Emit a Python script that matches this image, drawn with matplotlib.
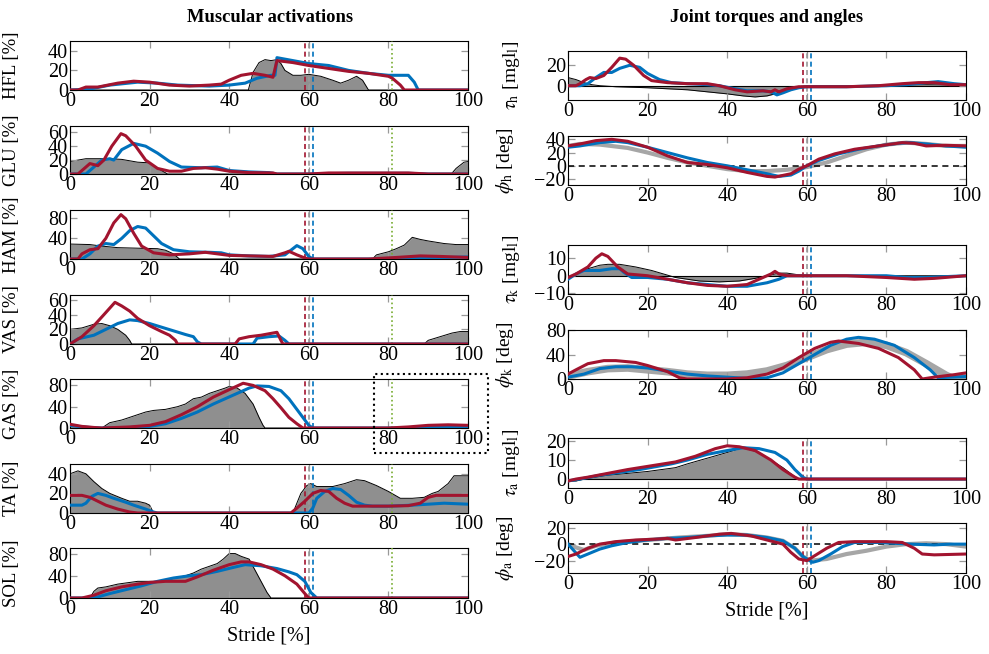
import matplotlib
matplotlib.use("Agg")
import matplotlib.pyplot as plt
from matplotlib.patches import Rectangle
import numpy as np

plt.rcParams['font.family'] = ['Liberation Serif', 'DejaVu Serif']
plt.rcParams['mathtext.fontset'] = 'stix'
plt.rcParams['font.size'] = 12

BLUE = '#0072BD'
RED = '#A2142F'
GRAY = '#8f8f8f'
LGRAY = '#a6a6a6'
GREEN = '#77AC30'

# ---------------- muscle activations [%] ----------------
hfl_ref_x = [0, 44.8, 46, 47.5, 49, 50.5, 52, 53, 54, 56, 58, 60, 63, 66, 68, 70, 72, 73.5, 75, 100]
hfl_ref_y = [0, 0, 18, 28, 31, 30, 31, 27, 20, 15, 15, 16, 14, 10, 7, 10, 14, 10, 0, 0]
hfl_blue_x = [0, 5, 10, 17, 22, 27, 35, 40, 44, 47, 50.5, 51.5, 52, 56, 60, 65, 70, 75, 80, 85, 86.5, 87.5, 100]
hfl_blue_y = [0, 1, 5, 8, 7, 5, 4, 5, 7, 12, 15, 15, 33, 30, 27, 25, 20, 17, 15, 15, 8, 0, 0]
hfl_red_x = [0, 2, 4, 7, 12, 16, 20, 25, 30, 35, 38, 40, 43, 46, 49, 51, 52, 56, 60, 65, 70, 75, 80, 81, 83, 84, 100]
hfl_red_y = [0, 0, 3, 3, 7, 9, 8, 5, 4, 5, 6, 10, 15, 17, 15, 13, 30, 28, 25, 22, 19, 17, 14, 12, 5, 0, 0]

glu_ref_x = [0, 2, 4, 10, 13, 17, 20, 21, 23, 24.5, 95.8, 97, 99, 100]
glu_ref_y = [18, 20, 22, 22, 21, 17, 16, 12, 5, 0, 0, 8, 17, 18]
glu_blue_x = [0, 4, 6, 8, 10, 11, 13, 16, 19, 22, 25, 28, 33, 37, 40, 45, 50, 52, 60, 70, 85, 90, 100]
glu_blue_y = [0, 0, 10, 20, 22, 20, 35, 44, 40, 30, 18, 10, 9, 10, 5, 3, 2, 0, 0, 1, 1, 0, 0]
glu_red_x = [0, 2, 4, 5, 7, 8.5, 10.5, 12.8, 14, 16.5, 19, 22, 25, 28, 31, 34, 37, 40, 45, 51, 52, 60, 65, 85, 90, 100]
glu_red_y = [0, 0, 10, 15, 12, 20, 40, 58, 55, 40, 20, 8, 4, 4, 8, 9, 7, 4, 2, 1.5, 0, 0, 1.5, 1.5, 0, 0]

ham_ref_x = [0, 5, 8, 12, 17, 22, 24, 26, 27.5, 76, 77, 80, 82, 84, 86, 88, 90, 94, 97, 100]
ham_ref_y = [29, 28, 25, 22, 21, 20, 17, 10, 0, 0, 8, 14, 20, 27, 42, 38, 35, 30, 28, 28]
ham_blue_x = [0, 3, 5, 7, 9, 11, 13, 15, 17, 19, 21, 23, 26, 30, 35, 38, 40, 45, 50, 54, 56, 57, 58.5, 60, 61, 80, 90, 100]
ham_blue_y = [0, 0, 10, 25, 30, 28, 40, 55, 63, 60, 45, 30, 18, 14, 13, 12, 8, 6, 5, 8, 20, 26, 20, 5, 0, 0, 2, 4]
ham_red_x = [0, 2, 3, 5, 7, 9, 11, 12.8, 14, 16, 18, 21, 25, 30, 34, 37, 40, 45, 51, 54, 55, 57, 59, 60, 75, 82, 88, 93, 100]
ham_red_y = [0, 0, 10, 18, 20, 40, 70, 86, 78, 50, 25, 12, 8, 10, 13, 10, 7, 6, 5, 12, 15, 8, 2, 0, 0, 3, 6, 5, 3]

vas_ref_x = [0, 3, 6, 8, 10, 12, 14, 15, 15.5, 89, 90, 93, 96, 98, 100]
vas_ref_y = [20, 22, 27, 28, 25, 20, 12, 5, 0, 0, 5, 10, 15, 17, 17]
vas_blue_x = [0, 2, 6, 9, 12, 15, 17, 20, 23, 26, 29, 31, 32, 33, 46, 47, 50, 52.5, 54, 55, 100]
vas_blue_y = [0, 7, 12, 20, 28, 33, 32, 28, 23, 18, 13, 10, 3, 0, 0, 8, 10, 11, 5, 0, 0]
vas_red_x = [0, 3, 6, 8.5, 11.3, 13, 15, 17, 20, 23, 25, 26.5, 27, 41.5, 42.5, 45, 48, 51, 52, 53, 53.5, 100]
vas_red_y = [0, 10, 25, 40, 57, 52, 45, 35, 25, 17, 12, 5, 0, 0, 7, 10, 12, 15, 16, 5, 0, 0]

gas_ref_x = [0, 8, 10, 13, 15, 17, 19, 21, 24, 27, 29, 31, 33, 35, 37, 39, 40, 42, 44, 46, 47.5, 48.5, 49, 100]
gas_ref_y = [0, 0, 10, 15, 20, 25, 30, 33, 35, 40, 45, 55, 58, 65, 70, 75, 78, 75, 65, 45, 20, 5, 0, 0]
gas_blue_x = [0, 2, 5, 8, 15, 20, 24, 28, 32, 36, 39, 42, 45, 47, 50, 53, 55, 57, 59, 60, 61, 85, 90, 100]
gas_blue_y = [5, 3, 1, 0, 1, 3, 8, 18, 30, 45, 55, 65, 75, 79, 78, 70, 55, 35, 15, 5, 0, 0, 1, 1]
gas_red_x = [0, 3, 6, 8, 15, 20, 24, 28, 32, 36, 40, 43.5, 46, 49, 51, 53, 55, 57, 58.5, 80, 85, 90, 95, 100]
gas_red_y = [7, 3, 1, 0, 2, 5, 12, 25, 40, 58, 72, 84, 80, 70, 55, 38, 20, 8, 0, 0, 2, 5, 6, 5]

ta_ref_x = [0, 2, 4, 6, 8, 10, 13, 15, 17, 19, 20, 21, 56, 57, 58, 59.5, 60.5, 62, 66, 69, 72, 74, 77, 80, 83, 86, 89, 91, 92.5, 95, 96.5, 100]
ta_ref_y = [40, 43, 40, 32, 25, 20, 15, 12, 12, 10, 8, 0, 0, 10, 20, 28, 30, 27, 27, 30, 34, 33, 28, 22, 15, 15, 16, 20, 22, 30, 38, 38]
ta_blue_x = [0, 3, 4, 5.5, 7, 9, 11, 14, 16, 19, 21, 22, 60, 61, 62, 64, 66, 68, 70, 72, 74, 76, 80, 86, 90, 94, 100]
ta_blue_y = [8, 8, 10, 17, 20, 18, 15, 11, 8, 4, 1, 0, 0, 5, 15, 22, 25, 24, 18, 11, 8, 7, 7, 8, 9, 10, 9]
ta_red_x = [0, 3, 5, 7, 9, 12, 15, 17, 55.5, 57, 59, 61, 63, 65, 67, 69, 71, 80, 85, 88, 90, 92, 100]
ta_red_y = [18, 18, 16, 12, 8, 4, 1, 0, 0, 5, 12, 20, 23, 22, 15, 10, 7, 7, 7.5, 10, 16, 18, 18]

sol_ref_x = [0, 5, 6, 7, 9, 12, 15, 17, 20, 23, 26, 29, 31, 33, 35, 37, 38.5, 40, 41.5, 43, 45, 46.5, 48, 49.5, 50.5, 100]
sol_ref_y = [0, 0, 12, 18, 20, 25, 28, 30, 30, 30, 35, 40, 45, 52, 57, 62, 70, 80, 80, 75, 70, 50, 30, 10, 0, 0]
sol_blue_x = [0, 5, 7, 10, 14, 18, 22, 26, 30, 33, 37, 41, 44, 48, 52, 55, 57, 59, 60.5, 62, 100]
sol_blue_y = [0, 0, 2, 8, 15, 22, 30, 36, 40, 42, 48, 55, 60, 58, 53, 47, 42, 30, 10, 0, 0]
sol_red_x = [0, 3, 6, 9, 13, 17, 20, 24, 27, 29, 32, 36, 40, 43, 45, 48, 51, 54, 57, 59, 60, 100]
sol_red_y = [0, 0, 5, 13, 20, 25, 28, 30, 30, 30, 38, 50, 60, 65, 65, 60, 52, 40, 25, 8, 0, 0]

# ---------------- joint torques [mgl] and angles [deg] ----------------
th_ref_x = [0, 2, 4, 6, 8, 12, 20, 25, 30, 35, 40, 44, 47, 50, 52, 55, 58, 60, 70, 80, 90, 100]
th_ref_y = [8, 6, 3, 1, 0, -1, -2, -3, -4, -6, -8, -10, -11, -10, -8, -4, -1, 0, 0, 0.5, 1, 0.5]
th_blue_x = [0, 3, 5, 7, 9, 11, 13, 15.5, 18, 20, 23, 26, 30, 35, 38, 42, 45, 49, 51, 52.5, 54, 56, 58, 60, 70, 80, 85, 90, 93, 97, 100]
th_blue_y = [0, 0, 2, 8, 13, 13, 17, 20, 18, 12, 6, 3, 2, 1, 0, -3, -5, -5, -6, -9, -7, -4, -2, -1, -1, 0, 1, 3, 4, 2, 1]
th_red_x = [0, 2, 3, 4.5, 5.5, 7, 9, 11, 13, 14.5, 16.5, 19, 21, 25, 30, 35, 38, 42, 45, 49, 51, 52, 53, 55, 58, 60, 70, 78, 84, 88, 92, 96, 100]
th_red_y = [0, 0, 2, 6, 8, 7, 10, 18, 27, 26, 20, 10, 5, 3, 2, 2, 0, -4, -6, -5, -6, -4, -6, -3, -1, -1, -1, 0, 2, 3, 3, 1, 1]

ph_ref_x = [0, 3, 8, 15, 20, 25, 30, 35, 40, 45, 50, 55, 60, 65, 70, 75, 80, 85, 90, 95, 100]
ph_ref_y = [30, 33, 32, 27, 20, 12, 5, 0, -5, -8, -8, -6, -2, 5, 15, 25, 32, 35, 33, 30, 30]
ph_blue_x = [0, 3, 8, 12, 15, 20, 25, 30, 35, 40, 45, 50, 53, 56, 58, 60, 63, 68, 73, 78, 83, 86, 90, 95, 100]
ph_blue_y = [28, 30, 35, 37, 35, 28, 20, 12, 5, 0, -6, -12, -16, -14, -8, 0, 8, 18, 25, 30, 34, 35, 33, 30, 28]
ph_red_x = [0, 3, 7, 11, 15, 20, 25, 30, 35, 40, 45, 50, 52, 56, 58, 60, 63, 67, 72, 78, 84, 87, 90, 95, 100]
ph_red_y = [30, 33, 38, 40, 37, 28, 15, 5, 2, -3, -10, -16, -17, -12, -5, 0, 10, 18, 25, 30, 35, 34, 30, 31, 30]

tk_ref_x = [0, 1, 3, 5, 8, 10, 13, 17, 21, 24, 27, 33, 38, 43, 47, 50, 53, 55, 58, 60, 100]
tk_ref_y = [-2, 0, 2, 4, 6, 6.5, 6.5, 5, 3, 1, -1, -3, -3.5, -3, -1.5, 0, 1.5, 1.5, 0.5, 0, 0]
tk_blue_x = [0, 2, 4, 8, 11, 13, 14, 16, 20, 25, 30, 35, 40, 45, 50, 53, 55, 70, 80, 85, 90, 100]
tk_blue_y = [-2, 1, 3, 3, 4, 4, 2, -1, -1, -2, -4, -5, -6, -6, -4, -2, 0, 0, 0, -1, -1, 0]
tk_red_x = [0, 2, 5, 7, 8.5, 10, 12.5, 15, 20, 25, 30, 35, 40, 45, 48, 51, 52, 53, 55, 70, 80, 87, 92, 100]
tk_red_y = [-1, 1, 5, 10, 12.5, 11, 5, 1, 0, -2, -4, -5.5, -6, -5, -2, 1, 2.5, 1, 0, 0, -1, -2, -1.5, 0]

pk_ref_x = [0, 5, 10, 15, 20, 25, 30, 35, 40, 45, 50, 55, 60, 65, 70, 75, 80, 85, 90, 95, 97, 100]
pk_ref_y = [5, 12, 17, 18, 15, 12, 8, 6, 6, 8, 13, 22, 35, 48, 57, 60, 55, 43, 25, 6, 0, 2]
pk_blue_x = [0, 4, 8, 12, 16, 20, 25, 30, 35, 40, 45, 50, 54, 58, 62, 66, 70, 73, 77, 82, 87, 91, 93, 96, 100]
pk_blue_y = [3, 8, 17, 20, 20, 18, 13, 8, 5, 3, 1, 2, 10, 25, 40, 55, 65, 68, 65, 55, 35, 15, 2, 3, 4]
pk_red_x = [0, 2, 5, 9, 12, 17, 20, 25, 28, 30, 40, 45, 50, 54, 58, 62, 66, 68, 73, 78, 83, 87, 89, 92, 97, 100]
pk_red_y = [8, 15, 25, 30, 30, 27, 22, 12, 2, 0, 0, 2, 8, 18, 35, 50, 60, 62, 58, 50, 35, 15, 0, 3, 7, 10]

ta_t_ref_x = [0, 2, 4, 10, 20, 27, 30, 35, 40, 44, 48, 51, 54, 56.5, 58, 100]
ta_t_ref_y = [-1, -1, 0, 2, 4, 6, 8, 11, 14, 16.5, 14, 10, 6, 2, 0, 0]
ta_t_blue_x = [0, 3, 8, 18, 26, 30, 35, 40, 44, 48, 52, 55, 57, 59, 60, 100]
ta_t_blue_y = [-1, 0, 2, 5, 8, 10, 13, 15, 16.5, 16, 14, 10, 5, 1, 0, 0]
ta_t_red_x = [0, 2, 5, 10, 15, 21, 27, 32, 37, 40, 43, 47, 51, 54, 57, 58, 100]
ta_t_red_y = [-1, 0, 1, 3, 5, 7, 9, 12, 16, 17.5, 17, 15, 10, 5, 1, 0, 0]

pa_ref_x = [0, 2, 4, 7, 12, 20, 28, 35, 40, 45, 50, 54, 57, 59, 61, 65, 70, 75, 80, 85, 90, 95, 100]
pa_ref_y = [0, -4, -7, -2, 2, 5, 8, 10, 12, 11, 8, 4, -5, -15, -20, -18, -12, -8, -3, 0, 1, 0, -3]
pa_blue_x = [0, 1.5, 3, 5, 8, 11, 15, 20, 25, 30, 35, 40, 45, 50, 54, 57, 59, 61.5, 63, 66, 69, 72, 78, 82, 86, 92, 96, 100]
pa_blue_y = [0, -8, -16, -12, -6, -2, 2, 5, 7, 8, 10, 11, 11, 8, 4, -5, -15, -22, -20, -12, -3, 2, 2, 1, 0, -1, 0, 0]
pa_red_x = [0, 2, 5, 8, 12, 17, 22, 25, 27, 32, 38, 41, 46, 50, 54, 56, 58, 60, 62, 65, 68, 72, 80, 84, 87, 89, 92, 100]
pa_red_y = [-15, -12, -5, 0, 3, 5, 6, 7, 5, 8, 12, 13, 10, 5, 0, -10, -18, -20, -14, -5, 2, 3, 3, 2, -5, -12, -13, -12]

W, H = 989, 654
fig = plt.figure(figsize=(W / 100, H / 100), dpi=100)


def make_ax(x0, top, bottom, ylim, yticks):
    ax = fig.add_axes([x0 / W, 1 - bottom / H, 398 / W, (bottom - top) / H])
    ax.set_xlim(0, 100)
    ax.set_ylim(*ylim)
    ax.set_xticks([0, 20, 40, 60, 80, 100])
    ax.set_yticks(yticks)
    ax.tick_params(direction='in', top=True, right=True, color='#999999',
                   length=5, width=0.9, labelsize=14.5, pad=1.5)
    for s in ax.spines.values():
        s.set_linewidth(0.8)
    return ax


def events(ax, green=True):
    ax.axvline(59, color=RED, ls=(0, (3, 2)), lw=1.2, zorder=3)
    ax.axvline(60, color='#999999', ls=(0, (3, 2)), lw=1.2, zorder=3)
    ax.axvline(61, color=BLUE, ls=(0, (3, 2)), lw=1.2, zorder=3)
    if green:
        ax.axvline(81, color=GREEN, ls=':', lw=1.2, zorder=3)


left = [
    ('HFL [%]', (0, 50), [0, 20, 40], hfl_ref_x, hfl_ref_y, hfl_blue_x, hfl_blue_y, hfl_red_x, hfl_red_y),
    ('GLU [%]', (0, 69), [0, 20, 40, 60], glu_ref_x, glu_ref_y, glu_blue_x, glu_blue_y, glu_red_x, glu_red_y),
    ('HAM [%]', (0, 95), [0, 40, 80], ham_ref_x, ham_ref_y, ham_blue_x, ham_blue_y, ham_red_x, ham_red_y),
    ('VAS [%]', (0, 67), [0, 20, 40, 60], vas_ref_x, vas_ref_y, vas_blue_x, vas_blue_y, vas_red_x, vas_red_y),
    ('GAS [%]', (0, 92), [0, 40, 80], gas_ref_x, gas_ref_y, gas_blue_x, gas_blue_y, gas_red_x, gas_red_y),
    ('TA [%]', (0, 50), [0, 20, 40], ta_ref_x, ta_ref_y, ta_blue_x, ta_blue_y, ta_red_x, ta_red_y),
    ('SOL [%]', (0, 90), [0, 40, 80], sol_ref_x, sol_ref_y, sol_blue_x, sol_blue_y, sol_red_x, sol_red_y),
]
left_top = [41, 126, 210, 295, 379, 464, 548]
left_bot = [90, 174, 259, 344, 428, 513, 598]

for i, (lab, yl, yt, rx, ry, bx, by, qx, qy) in enumerate(left):
    ax = make_ax(70, left_top[i], left_bot[i], yl, yt)
    ax.fill_between(rx, ry, 0, color=GRAY, lw=0, zorder=1)
    ax.plot(rx, ry, color='black', lw=0.7, zorder=1.5)
    ax.plot(bx, by, color=BLUE, lw=2.2, zorder=4)
    ax.plot(qx, qy, color=RED, lw=2.2, zorder=5)
    events(ax, green=True)
    ax.set_ylabel(lab, fontsize=13.5)
    ax.yaxis.set_label_coords(-0.125, 0.5)
    if i == len(left) - 1:
        ax.set_xlabel('Stride [%]', fontsize=14.5, labelpad=5)

right = [
    (r'$\tau_{\rm h}$ [mgl$_{\rm l}$]', (-14, 34), [0, 20], 'torque', th_ref_x, th_ref_y, th_blue_x, th_blue_y, th_red_x, th_red_y),
    (r'$\phi_{\rm h}$ [deg]', (-29, 45), [-20, 0, 20, 40], 'angle', ph_ref_x, ph_ref_y, ph_blue_x, ph_blue_y, ph_red_x, ph_red_y),
    (r'$\tau_{\rm k}$ [mgl$_{\rm l}$]', (-10.4, 17.5), [-10, 0, 10], 'torque', tk_ref_x, tk_ref_y, tk_blue_x, tk_blue_y, tk_red_x, tk_red_y),
    (r'$\phi_{\rm k}$ [deg]', (0, 80), [0, 40, 80], 'angle', pk_ref_x, pk_ref_y, pk_blue_x, pk_blue_y, pk_red_x, pk_red_y),
    (r'$\tau_{\rm a}$ [mgl$_{\rm l}$]', (-4.7, 21.6), [0, 10, 20], 'torque', ta_t_ref_x, ta_t_ref_y, ta_t_blue_x, ta_t_blue_y, ta_t_red_x, ta_t_red_y),
    (r'$\phi_{\rm a}$ [deg]', (-35, 25.6), [-20, 0, 20], 'angle', pa_ref_x, pa_ref_y, pa_blue_x, pa_blue_y, pa_red_x, pa_red_y),
]
right_top = [51, 136, 245, 330, 438, 523]
right_bot = [100, 185, 294, 379, 488, 573]

for i, (lab, yl, yt, kind, rx, ry, bx, by, qx, qy) in enumerate(right):
    ax = make_ax(568, right_top[i], right_bot[i], yl, yt)
    if kind == 'torque':
        ax.fill_between(rx, ry, 0, color=GRAY, lw=0, zorder=1)
        ax.plot(rx, ry, color='black', lw=0.7, zorder=1.5)
        ax.axhline(0, color='black', lw=0.8, zorder=1.5)
    else:
        lw_ref = 5.5 if i == 3 else 3
        ax.plot(rx, ry, color=LGRAY, lw=lw_ref, zorder=1)
        if yl[0] < 0:
            ax.axhline(0, color='black', lw=1.1, ls=(0, (4, 3)), zorder=2)
    ax.plot(bx, by, color=BLUE, lw=2.2, zorder=4)
    ax.plot(qx, qy, color=RED, lw=2.2, zorder=5)
    events(ax, green=False)
    ax.set_ylabel(lab, fontsize=14)
    ax.yaxis.set_label_coords(-0.115 if kind == 'torque' else -0.13, 0.5)
    if i == len(right) - 1:
        ax.set_xlabel('Stride [%]', fontsize=14.5, labelpad=5)

fig.text(270 / W, 1 - 17 / H, 'Muscular activations', ha='center', va='center',
         fontsize=13.3, fontweight='bold')
fig.text(767 / W, 1 - 17 / H, 'Joint torques and angles', ha='center', va='center',
         fontsize=13.3, fontweight='bold')

# dotted box highlighting the late swing GAS window
fig.patches.append(Rectangle((374 / W, 1 - 453 / H), (488 - 374) / W, (453 - 374) / H,
                             transform=fig.transFigure, fill=False, ec='black',
                             ls=':', lw=1.5))

fig.savefig('out.png', dpi=100)
